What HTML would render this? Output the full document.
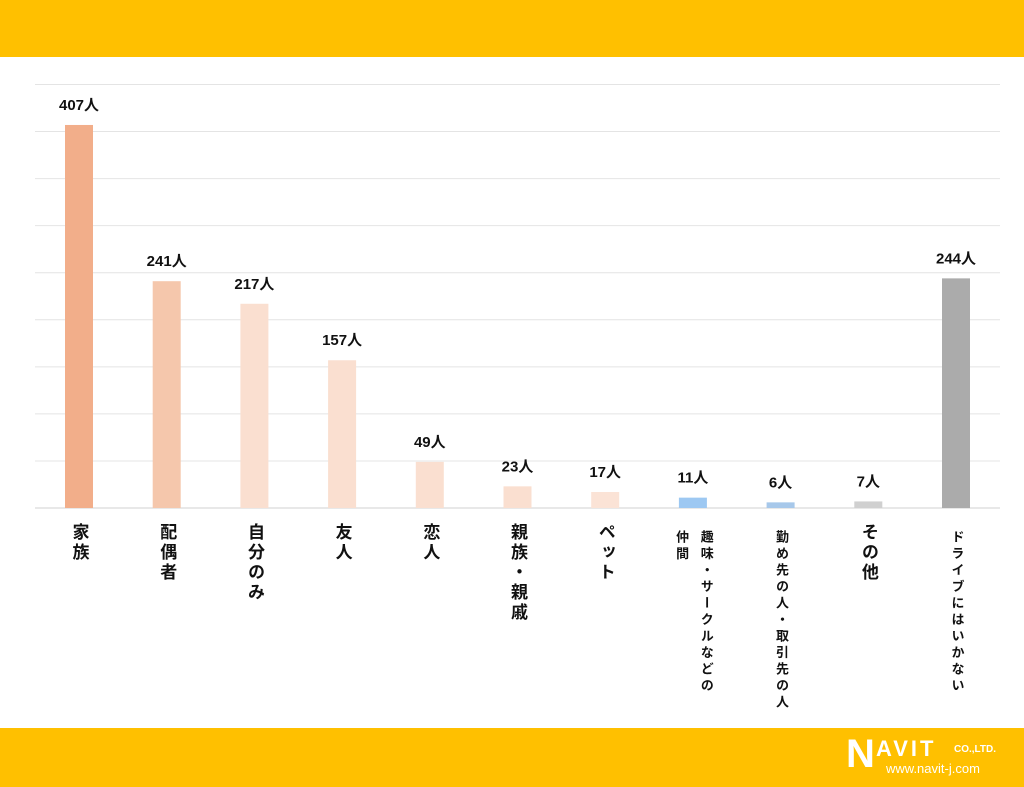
<!DOCTYPE html>
<html><head><meta charset="utf-8"><style>
body{margin:0;width:1024px;height:787px;background:#fff;position:relative;overflow:hidden;font-family:"Liberation Sans","Noto Sans CJK JP",sans-serif}
.band{position:absolute;left:0;width:1024px;background:#FFC000}
.lbl{position:absolute;writing-mode:vertical-rl;font-weight:bold;color:#111;line-height:1.15}
</style></head><body>
<div class="band" style="top:0;height:57px"></div>
<div class="band" style="top:728px;height:59px">
 <div style="position:absolute;left:846px;top:2px;width:170px;height:52px;color:#fff;font-weight:bold">
  <span style="position:absolute;left:0;top:0;font-size:40px;line-height:48px">N</span>
  <span style="position:absolute;left:30px;top:6px;font-size:22px;letter-spacing:3px;line-height:26px">AVIT</span>
  <span style="position:absolute;left:108px;top:14px;font-size:10px;line-height:12px">CO.,LTD.</span>
  <span style="position:absolute;left:40px;top:31px;font-size:13px;font-weight:normal;white-space:nowrap;line-height:16px">www.navit-j.com</span>
 </div>
</div>
<svg id="chart" width="1024" height="787" style="position:absolute;left:0;top:0"></svg>
<script>
const categories=["家族","配偶者","自分のみ","友人","恋人","親族・親戚","ペット","趣味・サークルなどの<br>仲間","勤め先の人・取引先の人","その他","ドライブにはいかない"];
const values=[407,241,217,157,49,23,17,11,6,7,244];
const colors=["#F2AE8A","#F5C7AC","#FADFD0","#FADFD0","#FADFD0","#FADFD0","#FBE3D6","#9DC8F2","#A7C8EA","#D0D0D0","#ABABAB"];
const gridTicks=[0,50,100,150,200,250,300,350,400,450];
const NS="http://www.w3.org/2000/svg";
const svg=document.getElementById('chart');
const y=v=>508-v*(423.5/450);
const x=i=>79+i*87.7;
gridTicks.forEach(t=>{const l=document.createElementNS(NS,'line');


l.setAttribute('x1',35);l.setAttribute('x2',1000);l.setAttribute('y1',y(t));l.setAttribute('y2',y(t));
l.setAttribute('stroke',t===0?'#d0d0d0':'#e4e4e4');l.setAttribute('stroke-width',1);svg.appendChild(l);});
values.forEach((v,i)=>{const r=document.createElementNS(NS,'rect');


r.setAttribute('x',x(i)-14);r.setAttribute('width',28);r.setAttribute('y',y(v));r.setAttribute('height',508-y(v));r.setAttribute('fill',colors[i]);svg.appendChild(r);
const t=document.createElementNS(NS,'text');


t.setAttribute('x',x(i));t.setAttribute('y',y(v)-15);t.setAttribute('text-anchor','middle');t.setAttribute('font-size','15');t.setAttribute('font-weight','bold');t.setAttribute('fill','#111');t.textContent=v+'人';svg.appendChild(t);
const d=document.createElement('div');


d.className='lbl';
const small=(i===7||i===8||i===10);
d.style.fontSize=small?'13px':'17px';
d.style.letterSpacing=small?'3.5px':'3px';
if(i===7)d.style.lineHeight='1.9';
d.innerHTML=categories[i];
d.style.top=(small?530:523)+'px';
document.body.appendChild(d);
const w=d.offsetWidth;d.style.left=(x(i)-w/2)+'px';});
</script>
</body></html>
